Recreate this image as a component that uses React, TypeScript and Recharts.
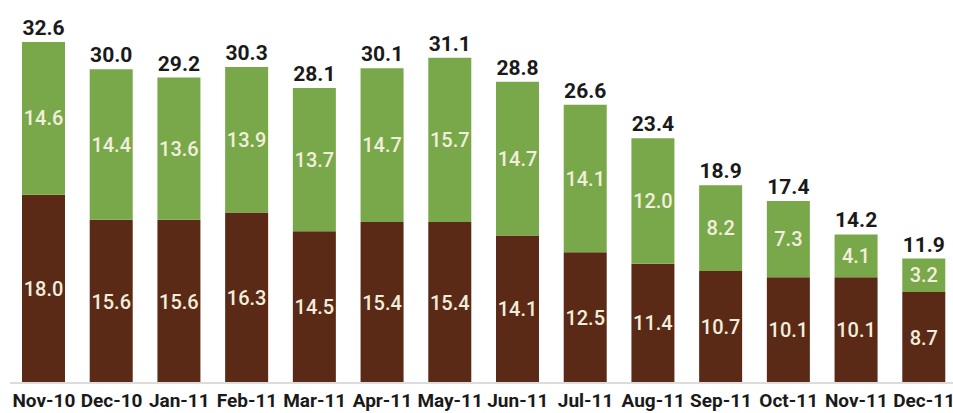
import { Bar, BarChart, LabelList, XAxis, YAxis } from "recharts";

const months = [
  "Nov-10", "Dec-10", "Jan-11", "Feb-11", "Mar-11", "Apr-11", "May-11",
  "Jun-11", "Jul-11", "Aug-11", "Sep-11", "Oct-11", "Nov-11", "Dec-11",
];
const lower = [18.0, 15.6, 15.6, 16.3, 14.5, 15.4, 15.4, 14.1, 12.5, 11.4, 10.7, 10.1, 10.1, 8.7];
const upper = [14.6, 14.4, 13.6, 13.9, 13.7, 14.7, 15.7, 14.7, 14.1, 12.0, 8.2, 7.3, 4.1, 3.2];
const totals = [32.6, 30.0, 29.2, 30.3, 28.1, 30.1, 31.1, 28.8, 26.6, 23.4, 18.9, 17.4, 14.2, 11.9];

const data = months.map((m, i) => ({
  month: m,
  lower: lower[i],
  upper: upper[i],
  total: totals[i],
}));

const font = "Roboto, 'DejaVu Sans', sans-serif";
const fmt = (v: any) => Number(v).toFixed(1);

export default function App() {
  return (
    <div
      style={{
        position: "absolute",
        left: 0,
        top: 0,
        width: 953,
        height: 413,
        background: "#fff",
      }}
    >
      <BarChart
        width={953}
        height={413}
        data={data}
        margin={{ top: 42, right: -5, left: 10, bottom: 0 }}
        barSize={43}
      >
        <XAxis
          dataKey="month"
          height={30}
          tickLine={false}
          tickMargin={5}
          axisLine={{ stroke: "#dcdcdc", strokeWidth: 2 }}
          tick={{ fill: "#1a1a1a", fontSize: 19, fontWeight: 700, fontFamily: font }}
          interval={0}
        />
        <YAxis hide domain={[0, 32.6]} />
        <Bar dataKey="lower" stackId="a" fill="#5a2a16" isAnimationActive={false}>
          <LabelList
            dataKey="lower"
            position="center"
            formatter={fmt}
            style={{ fill: "#f3eedc", fontSize: 20, fontWeight: 500, fontFamily: font }}
          />
        </Bar>
        <Bar dataKey="upper" stackId="a" fill="#78a84a" isAnimationActive={false}>
          <LabelList
            dataKey="upper"
            position="center"
            formatter={fmt}
            style={{ fill: "#f3eedc", fontSize: 20, fontWeight: 500, fontFamily: font }}
          />
          <LabelList
            dataKey="total"
            position="top"
            offset={7}
            formatter={fmt}
            style={{ fill: "#1a1a1a", fontSize: 21, fontWeight: 700, fontFamily: font }}
          />
        </Bar>
      </BarChart>
    </div>
  );
}
